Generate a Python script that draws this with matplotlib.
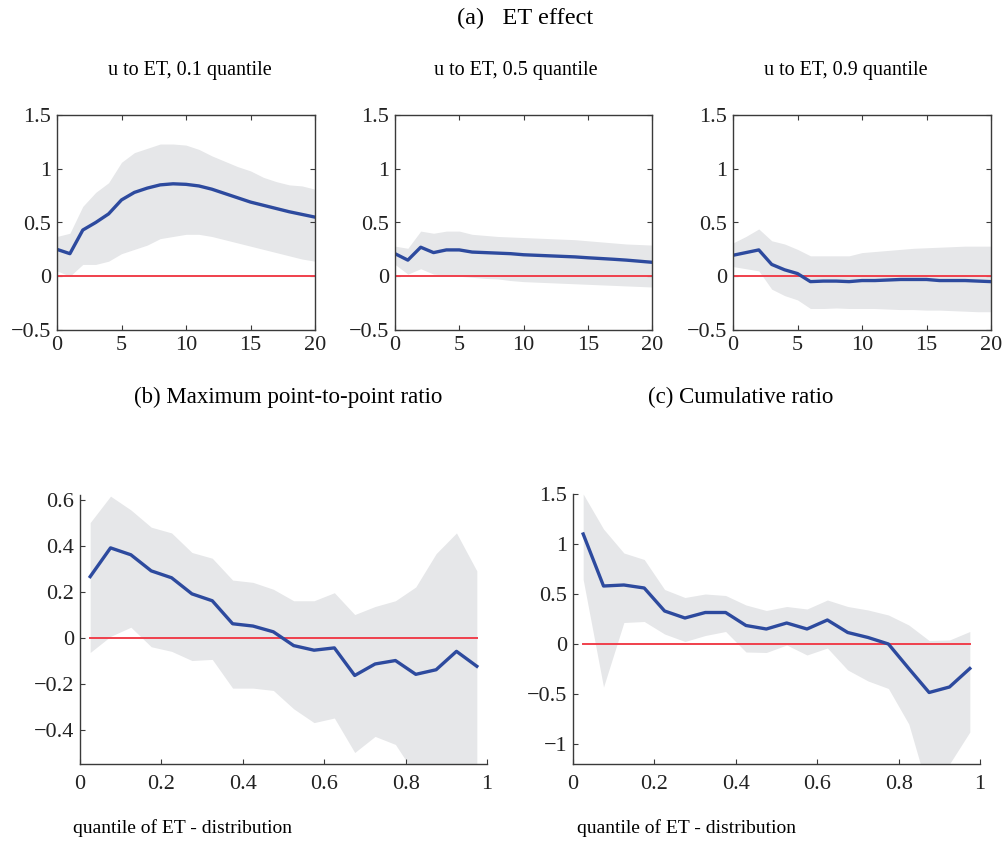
import matplotlib
matplotlib.use("Agg")
import matplotlib.pyplot as plt
import numpy as np

plt.rcParams['font.family'] = ['Liberation Serif', 'DejaVu Serif']
plt.rcParams['axes.unicode_minus'] = True

# ---- data: panel (a) impulse responses, horizons 0..20 ----
horizon = list(range(21))

q01_mid = [0.25, 0.21, 0.43, 0.50, 0.58, 0.71, 0.78, 0.82, 0.85, 0.86, 0.855,
           0.84, 0.81, 0.77, 0.73, 0.69, 0.66, 0.63, 0.60, 0.575, 0.55]
q01_up = [0.37, 0.40, 0.65, 0.78, 0.87, 1.06, 1.15, 1.19, 1.23, 1.23, 1.22,
          1.18, 1.12, 1.07, 1.02, 0.98, 0.92, 0.88, 0.85, 0.84, 0.81]
q01_lo = [0.05, 0.00, 0.11, 0.11, 0.14, 0.21, 0.25, 0.29, 0.35, 0.37, 0.39,
          0.39, 0.37, 0.34, 0.31, 0.28, 0.25, 0.22, 0.19, 0.16, 0.14]

q05_mid = [0.21, 0.15, 0.27, 0.22, 0.245, 0.245, 0.225, 0.22, 0.215, 0.21, 0.20,
           0.195, 0.19, 0.185, 0.18, 0.172, 0.165, 0.158, 0.15, 0.14, 0.13]
q05_up = [0.28, 0.26, 0.42, 0.40, 0.42, 0.42, 0.39, 0.38, 0.37, 0.365, 0.36,
          0.355, 0.35, 0.345, 0.34, 0.33, 0.32, 0.31, 0.30, 0.295, 0.29]
q05_lo = [0.11, 0.02, 0.07, 0.02, 0.01, 0.00, -0.01, -0.02, -0.025, -0.04, -0.05,
          -0.055, -0.06, -0.065, -0.07, -0.075, -0.08, -0.085, -0.09, -0.095, -0.10]

q09_mid = [0.195, 0.22, 0.245, 0.11, 0.06, 0.025, -0.05, -0.045, -0.045, -0.05, -0.04,
           -0.04, -0.035, -0.03, -0.03, -0.03, -0.04, -0.04, -0.04, -0.045, -0.05]
q09_up = [0.31, 0.37, 0.44, 0.33, 0.30, 0.25, 0.19, 0.19, 0.19, 0.19, 0.22,
          0.23, 0.24, 0.25, 0.26, 0.265, 0.27, 0.275, 0.28, 0.28, 0.28]
q09_lo = [0.09, 0.07, 0.05, -0.12, -0.18, -0.22, -0.30, -0.30, -0.295, -0.30, -0.30,
          -0.30, -0.305, -0.31, -0.31, -0.315, -0.315, -0.32, -0.325, -0.33, -0.33]

sub_titles = ['u to ET, 0.1 quantile', 'u to ET, 0.5 quantile', 'u to ET, 0.9 quantile']

# ---- data: panels (b), (c) over quantiles of ET distribution ----
quant = [0.025, 0.075, 0.125, 0.175, 0.225, 0.275, 0.325, 0.375, 0.425, 0.475,
         0.525, 0.575, 0.625, 0.675, 0.725, 0.775, 0.825, 0.875, 0.925, 0.975]

mpp_mid = [0.265, 0.39, 0.36, 0.29, 0.26, 0.19, 0.16, 0.06, 0.05, 0.025,
           -0.035, -0.055, -0.045, -0.165, -0.115, -0.10, -0.16, -0.14, -0.06, -0.125]
mpp_up = [0.50, 0.615, 0.555, 0.48, 0.455, 0.37, 0.345, 0.25, 0.24, 0.21,
          0.16, 0.16, 0.195, 0.10, 0.135, 0.16, 0.22, 0.365, 0.455, 0.29]
mpp_lo = [-0.065, 0.005, 0.045, -0.04, -0.06, -0.10, -0.095, -0.22, -0.22, -0.23,
          -0.31, -0.37, -0.35, -0.50, -0.43, -0.465, -0.60, -0.70, -0.65, -0.60]

cum_mid = [1.10, 0.58, 0.59, 0.56, 0.33, 0.26, 0.315, 0.315, 0.185, 0.15,
           0.21, 0.15, 0.24, 0.115, 0.065, 0.0, -0.245, -0.485, -0.43, -0.245]
cum_up = [1.50, 1.15, 0.91, 0.845, 0.545, 0.465, 0.50, 0.485, 0.39, 0.335,
          0.375, 0.35, 0.44, 0.375, 0.34, 0.29, 0.19, 0.035, 0.04, 0.125]
cum_lo = [0.645, -0.43, 0.215, 0.225, 0.10, 0.025, 0.085, 0.125, -0.08, -0.085,
          -0.01, -0.11, -0.04, -0.26, -0.37, -0.445, -0.80, -1.50, -1.20, -0.88]

BLUE = '#2d4a9e'
RED = '#f0404c'
BAND = '#e6e7e9'
SPINE = '#3a3a3a'

W, H = 1005, 842
fig = plt.figure(figsize=(W / 100, H / 100), dpi=100)


def rect(l, t, r, b):
    return [l / W, 1 - b / H, (r - l) / W, (b - t) / H]


def style(ax, box, xpad):
    for s in ax.spines.values():
        s.set_color(SPINE)
        s.set_linewidth(1.0)
    if not box:
        ax.spines['top'].set_visible(False)
        ax.spines['right'].set_visible(False)
    ax.tick_params(direction='in', length=3.5, width=0.8, color=SPINE,
                   labelsize=16, labelcolor='#222222', pad=4,
                   top=box, right=box)
    ax.tick_params(axis='x', pad=xpad)


top_data = [(q01_mid, q01_up, q01_lo), (q05_mid, q05_up, q05_lo), (q09_mid, q09_up, q09_lo)]
top_rects = [(57, 115, 315, 330), (395, 115, 652, 330), (733, 115, 991, 330)]
sub_x = [190, 516, 846]

for (mid, up, lo), rc, title, sx in zip(top_data, top_rects, sub_titles, sub_x):
    ax = fig.add_axes(rect(*rc))
    ax.fill_between(horizon, lo, up, color=BAND, lw=0)
    ax.plot([horizon[0], horizon[-1]], [0, 0], color=RED, lw=1.4)
    ax.plot(horizon, mid, color=BLUE, lw=2.4)
    ax.set_xlim(0, 20)
    ax.set_ylim(-0.5, 1.5)
    ax.set_xticks([0, 5, 10, 15, 20])
    ax.set_yticks([-0.5, 0, 0.5, 1, 1.5])
    ax.set_yticklabels(['\u22120.5', '0', '0.5', '1', '1.5'])
    style(ax, True, 4)
    fig.text(sx / W, 1 - 70 / H, title, ha='center', va='center', fontsize=14.5)

fig.text(525 / W, 1 - 18 / H, '(a)   ET effect', ha='center', va='center', fontsize=17.5)

# panel (b)
ax = fig.add_axes(rect(80, 495, 487, 764))
ax.fill_between(quant, mpp_lo, mpp_up, color=BAND, lw=0)
ax.plot([quant[0], quant[-1]], [0, 0], color=RED, lw=1.4)
ax.plot(quant, mpp_mid, color=BLUE, lw=2.4)
ax.set_xlim(0, 1)
ax.set_ylim(-0.55, 0.62)
ax.set_xticks([0, 0.2, 0.4, 0.6, 0.8, 1])
ax.set_xticklabels(['0', '0.2', '0.4', '0.6', '0.8', '1'])
ax.set_yticks([-0.4, -0.2, 0, 0.2, 0.4, 0.6])
ax.set_yticklabels(['\u22120.4', '\u22120.2', '0', '0.2', '0.4', '0.6'])
style(ax, False, 8)

# panel (c)
ax = fig.add_axes(rect(573, 494, 980, 764))
ax.fill_between(quant, cum_lo, cum_up, color=BAND, lw=0)
ax.plot([quant[0], quant[-1]], [0, 0], color=RED, lw=1.4)
ax.plot(quant, cum_mid, color=BLUE, lw=2.4)
ax.set_xlim(0, 1)
ax.set_ylim(-1.2, 1.5)
ax.set_xticks([0, 0.2, 0.4, 0.6, 0.8, 1])
ax.set_xticklabels(['0', '0.2', '0.4', '0.6', '0.8', '1'])
ax.set_yticks([-1, -0.5, 0, 0.5, 1, 1.5])
ax.set_yticklabels(['\u22121', '\u22120.5', '0', '0.5', '1', '1.5'])
style(ax, False, 8)

fig.text(288 / W, 1 - 397 / H, '(b) Maximum point-to-point ratio', ha='center', va='center', fontsize=16.5)
fig.text(741 / W, 1 - 397 / H, '(c) Cumulative ratio', ha='center', va='center', fontsize=16.5)
fig.text(73 / W, 1 - 828 / H, 'quantile of ET - distribution', ha='left', va='center', fontsize=14)
fig.text(577 / W, 1 - 828 / H, 'quantile of ET - distribution', ha='left', va='center', fontsize=14)

fig.savefig('out.png', dpi=100)
